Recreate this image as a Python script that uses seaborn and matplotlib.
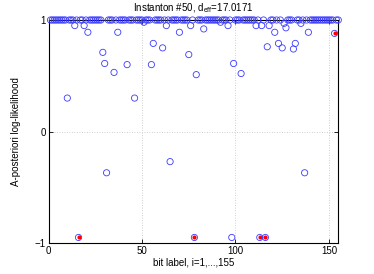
import matplotlib
matplotlib.use("Agg")
import matplotlib.pyplot as plt
import seaborn as sns
import pandas as pd

bits = list(range(1, 156))
llr = [
    1, 1, 1, 1, 1, 1, 1, 1, 1, 0.30,
    1, 1, 1, 0.95, 1, -0.95, 1, 1, 0.95, 1,
    0.89, 1, 1, 1, 1, 1, 1, 1, 0.71, 0.61,
    -0.37, 1, 1, 1, 0.53, 1, 0.89, 1, 1, 1,
    1, 0.60, 1, 1, 1, 0.30, 1, 1, 1, 1,
    0.98, 1, 1, 1, 0.60, 0.79, 1, 1, 1, 1,
    0.75, 1, 0.95, 1, -0.27, 1, 1, 1, 1, 0.89,
    1, 1, 1, 1, 0.69, 0.95, 1, -0.95, 0.51, 1,
    1, 1, 0.92, 1, 1, 1, 1, 1, 1, 1,
    1, 0.98, 1, 1, 1, 0.95, 1, -0.95, 0.61, 1,
    1, 1, 0.52, 1, 1, 1, 1, 1, 1, 1,
    0.95, 1, -0.95, 0.95, 1, -0.95, 0.76, 0.95, 1, 1,
    0.89, 1, 0.79, 1, 0.75, 0.97, 0.93, 1, 1, 1,
    0.74, 0.79, 1, 1, 0.97, 1, -0.37, 1, 0.89, 1,
    1, 1, 1, 1, 1, 1, 1, 1, 1, 1,
    1, 1, 0.88, 1, 1,
]
instanton_bits = [16, 78, 113, 116, 153]
xticks = [0, 50, 100, 150]
yticks = [-1, 0, 1]
title = "Instanton #50, d$_{eff}$=17.0171"
xlabel = "bit label, i=1,...,155"
ylabel = "A-posteriori log-likelihood"

plt.rcParams['font.family'] = ['Liberation Sans', 'DejaVu Sans']
plt.rcParams['mathtext.default'] = 'regular'
plt.rcParams['font.size'] = 7

df = pd.DataFrame({"bit": bits, "llr": llr})
red = df[df["bit"].isin(instanton_bits)]

fig = plt.figure(figsize=(3.74, 2.74), dpi=100)
ax = fig.add_axes([0.130, 0.113, 0.7745, 0.814])

ax.grid(True, linestyle=(0, (1, 2)), color='#c0c0c0', linewidth=0.6)
ax.set_axisbelow(True)

sns.scatterplot(data=red, x="bit", y="llr", ax=ax, marker='o', s=9,
                color='red', edgecolor='red', linewidth=0, clip_on=False, zorder=3)
sns.scatterplot(data=df, x="bit", y="llr", ax=ax, marker='o', s=20,
                facecolor='none', edgecolor='#3a3aff', linewidth=0.6,
                clip_on=False, zorder=4)

ax.set_xlim(0, 155)
ax.set_ylim(-1, 1)
ax.set_xticks(xticks)
ax.set_yticks(yticks)
ax.tick_params(direction='in', length=3, width=0.6, top=True, right=True,
               labelsize=7, pad=2)
for s in ax.spines.values():
    s.set_linewidth(0.8)
    s.set_color('black')

ax.set_title(title, fontsize=7, pad=6)
ax.set_xlabel(xlabel, fontsize=7, labelpad=1)
ax.set_ylabel(ylabel, fontsize=7, labelpad=10)

fig.savefig("out.png", dpi=100)
